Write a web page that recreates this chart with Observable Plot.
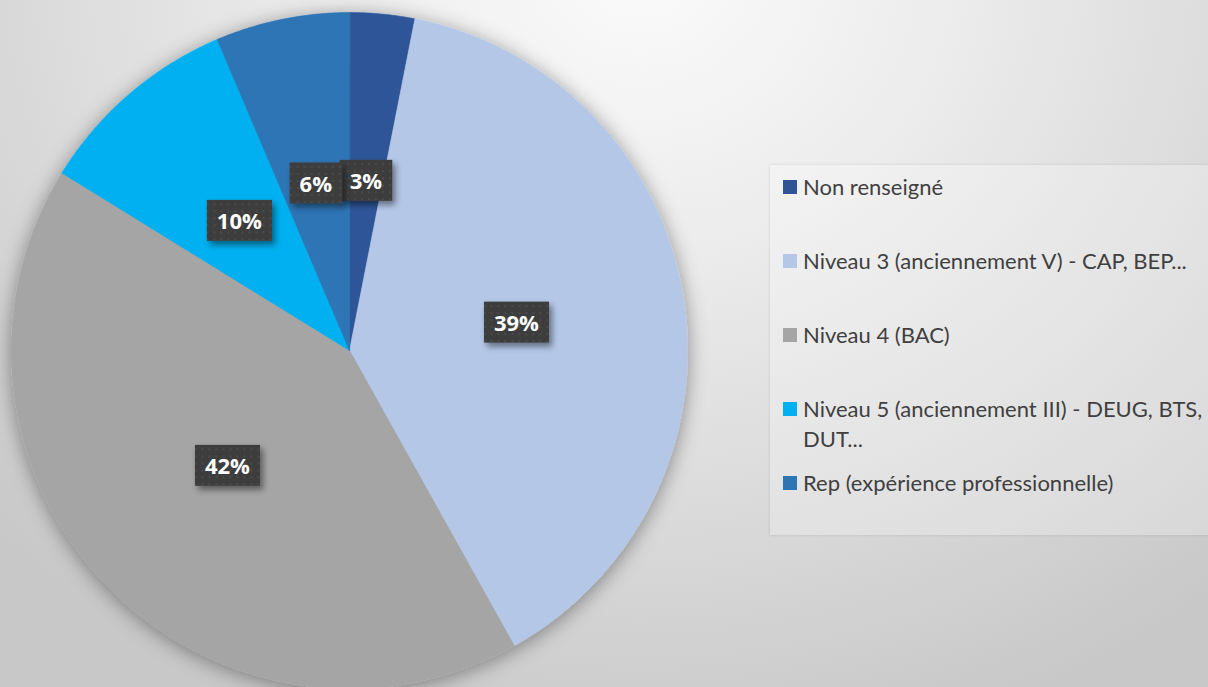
<!DOCTYPE html>
<html>
<head>
<meta charset="utf-8">
<script src="https://cdn.jsdelivr.net/npm/d3@7"></script>
<script src="https://cdn.jsdelivr.net/npm/@observablehq/plot@0.6"></script>
<style>
html, body { margin: 0; padding: 0; }
body {
  width: 1208px; height: 687px; overflow: hidden; position: relative;
  background: radial-gradient(ellipse 900px 800px at 640px -30px, #fbfbfb 0%, #ececec 35%, #dcdcdc 65%, #c8c8c8 100%);
  font-family: Lato, sans-serif;
}
#chart { position: absolute; left: 0; top: 0; }
#legend {
  position: absolute; left: 770px; top: 165px; width: 438px; height: 370px;
  background: rgba(255,255,255,0.25);
  box-shadow: 0 0 3px rgba(0,0,0,0.12);
}
.item { position: absolute; left: 0; width: 438px; font-size: 22px; line-height: 30px; color: #404040; }
.sw { position: absolute; left: 13px; top: 8px; width: 14px; height: 14px; }
.tx { position: absolute; left: 33px; top: 0; white-space: nowrap; }
</style>
</head>
<body>
<div id="chart"></div>
<div id="legend"></div>
<script>
// ---- data ----
const categories = [
  "Non renseigné",
  "Niveau 3 (anciennement V) - CAP, BEP...",
  "Niveau 4 (BAC)",
  "Niveau 5 (anciennement III) - DEUG, BTS, DUT...",
  "Rep (expérience professionnelle)"
];
const values = [3.1, 38.8, 41.9, 9.8, 6.4];
const labels = ["3%", "39%", "42%", "10%", "6%"];
const colors = ["#2F5597", "#B4C7E7", "#A5A5A5", "#00B0F0", "#2E75B6"];
const legendLines = [
  ["Non renseigné"],
  ["Niveau 3 (anciennement V) - CAP, BEP..."],
  ["Niveau 4 (BAC)"],
  ["Niveau 5 (anciennement III) - DEUG, BTS,", "DUT..."],
  ["Rep (expérience professionnelle)"]
];

// ---- pie geometry (unit circle, y up, angle 0 at top, clockwise) ----
const arcs = d3.pie().sort(null).value(d => d)(values);
const slicePts = [];
const labelPts = [];
arcs.forEach((a, i) => {
  const name = categories[i];
  slicePts.push({name, x: 0, y: 0});
  const n = Math.max(4, Math.ceil((a.endAngle - a.startAngle) / (Math.PI / 360)));
  for (let k = 0; k <= n; k++) {
    const t = a.startAngle + (a.endAngle - a.startAngle) * k / n;
    slicePts.push({name, x: Math.sin(t), y: Math.cos(t)});
  }
  const m = (a.startAngle + a.endAngle) / 2;
  labelPts.push({name, label: labels[i], x: 0.5 * Math.sin(m), y: 0.5 * Math.cos(m)});
});

const W = 1208, H = 687;
const chart = Plot.plot({
  width: W, height: H,
  margin: 0,
  style: {background: "transparent", overflow: "visible"},
  x: {domain: [-1, 1], range: [11, 687], axis: null},
  y: {domain: [-1, 1], range: [688, 12], axis: null},
  color: {domain: categories, range: colors},
  marks: [
    Plot.line(slicePts, {x: "x", y: "y", z: "name", fill: "name", stroke: "name", strokeWidth: 0.6, curve: "linear-closed"}),
    Plot.text(labelPts, {x: "x", y: "y", text: "label", fill: "white", fontSize: 22, fontWeight: "bold", fontFamily: "Open Sans"})
  ]
});
document.getElementById("chart").appendChild(chart);

// ---- decorations: shadows, label boxes ----
const svg = d3.select(chart);
const defs = svg.insert("defs", ":first-child");
const f1 = defs.append("filter").attr("id", "pieShadow").attr("x", "-20%").attr("y", "-20%").attr("width", "140%").attr("height", "140%");
f1.append("feDropShadow").attr("dx", 0).attr("dy", 3).attr("stdDeviation", 10).attr("flood-color", "#000").attr("flood-opacity", 0.4);
const f2 = defs.append("filter").attr("id", "boxShadow").attr("x", "-30%").attr("y", "-30%").attr("width", "160%").attr("height", "160%");
f2.append("feDropShadow").attr("dx", 3).attr("dy", 4).attr("stdDeviation", 3).attr("flood-color", "#000").attr("flood-opacity", 0.45);
const pat = defs.append("pattern").attr("id", "dots").attr("width", 7).attr("height", 7).attr("patternUnits", "userSpaceOnUse");
pat.append("rect").attr("width", 7).attr("height", 7).attr("fill", "#3d3d3d");
pat.append("rect").attr("x", 2).attr("y", 2).attr("width", 2).attr("height", 2).attr("fill", "#4b4b4b");

svg.select('g[aria-label="line"]').attr("filter", "url(#pieShadow)");
svg.select('g[aria-label="text"]').selectAll("text").each(function() {
  const b = this.getBBox();
  const padX = 10, h = 41;
  const cy = b.y + b.height / 2;
  const r = document.createElementNS("http://www.w3.org/2000/svg", "rect");
  r.setAttribute("x", b.x - padX);
  r.setAttribute("y", cy - h / 2);
  r.setAttribute("width", b.width + 2 * padX);
  r.setAttribute("height", h);
  r.setAttribute("fill", "url(#dots)");
  r.setAttribute("filter", "url(#boxShadow)");
  const tr = this.getAttribute("transform");
  if (tr) r.setAttribute("transform", tr);
  this.parentNode.insertBefore(r, this);
});

// ---- legend ----
const lg = d3.select("#legend");
categories.forEach((c, i) => {
  const it = lg.append("div").attr("class", "item").style("top", (22 - 15 + i * 74) + "px");
  it.append("div").attr("class", "sw").style("background", colors[i]);
  const tx = it.append("div").attr("class", "tx");
  legendLines[i].forEach((l, j) => { if (j) tx.append("br"); tx.append("span").text(l); });
});
</script>
</body>
</html>
